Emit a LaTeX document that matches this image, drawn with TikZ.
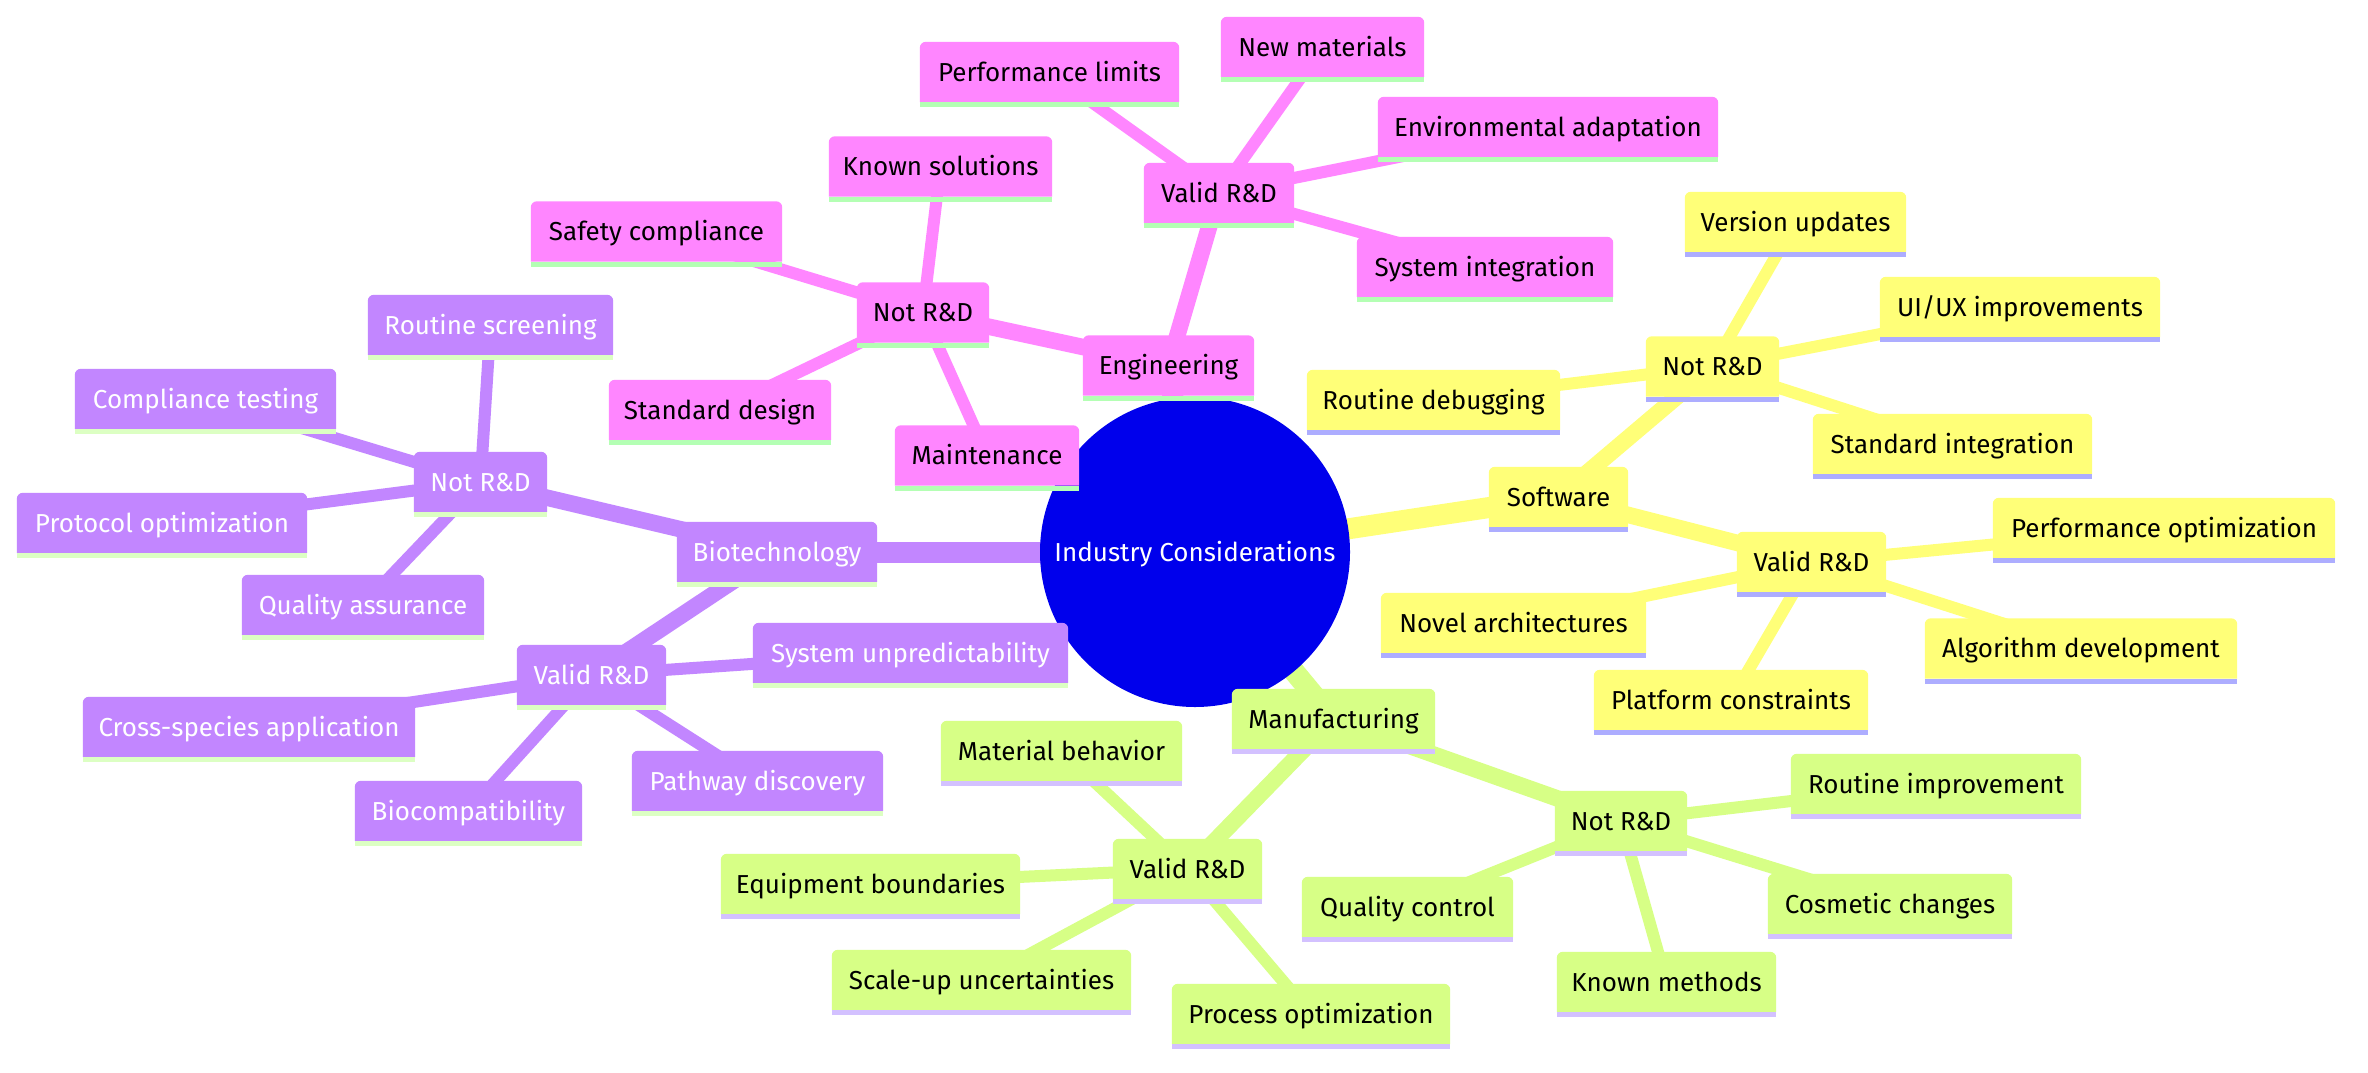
\documentclass[tikz,border=0pt]{standalone}
\usepackage{fontspec}
\setmainfont{Fira Sans}
\pgfdeclarelayer{bg}
\pgfdeclarelayer{edges}
\pgfdeclarelayer{boxes}
\pgfsetlayers{bg,edges,boxes,main}
\definecolor{rootc}{HTML}{0000EC}
\definecolor{yel}{HTML}{FFFF78}\definecolor{yelS}{HTML}{ADADFF}
\definecolor{pnk}{HTML}{FF86FF}\definecolor{pnkS}{HTML}{B4FFB4}
\definecolor{lim}{HTML}{D7FF86}\definecolor{limS}{HTML}{D3C1FF}
\definecolor{pur}{HTML}{C286FF}\definecolor{purS}{HTML}{DCFFC3}
\tikzset{
  mm/.style={inner sep=0pt, minimum height=60pt, text height=18pt, text depth=0pt,
    font=\fontsize{26}{30}\selectfont},
  dk/.style={mm, text=black},
  lt/.style={mm, text=white},
  e1/.style={line width=21pt, line cap=round},
  e2/.style={line width=16.5pt, line cap=round},
  e3/.style={line width=12pt, line cap=round},
}
\newcommand\mmbox[3]{%
  \fill[#2] (#1.south west) [rounded corners=6pt] -- (#1.north west) -- (#1.north east) [sharp corners] -- (#1.south east) -- cycle;
  \fill[#3] (#1.south west) rectangle ([yshift=-5pt]#1.south east);}
\begin{document}
\begin{tikzpicture}[x=1pt,y=-1pt]
\begin{pgfonlayer}{bg}
\fill[white] (0,0) rectangle (2368,1072);
\end{pgfonlayer}
\useasboundingbox (0,0) rectangle (2368,1072);
% root
\node[lt] (root) at (1195,552) {Industry Considerations};
% Engineering
\node[dk, minimum width=171pt] (eng) at (1168.5,365.5) {Engineering};
\node[dk, minimum width=132pt] (engN) at (923,312.5) {Not R\&D};
\node[dk, minimum width=150pt] (engV) at (1219,193) {Valid R\&D};
\node[dk, minimum width=223pt] (ks) at (940.5,166.5) {Known solutions};
\node[dk, minimum width=251pt] (sc) at (656.5,231.5) {Safety compliance};
\node[dk, minimum width=222pt] (sd) at (720,410) {Standard design};
\node[dk, minimum width=184pt] (mt) at (987,455.5) {Maintenance};
\node[dk, minimum width=259pt] (pl) at (1049.5,72) {Performance limits};
\node[dk, minimum width=203pt] (nm) at (1322.5,47) {New materials};
\node[dk, minimum width=340pt] (ea) at (1548,127) {Environmental adaptation};
\node[dk, minimum width=256pt] (si) at (1485,267) {System integration};
% Software
\node[dk, minimum width=139pt] (sw) at (1558.5,497) {Software};
\node[dk, minimum width=133pt] (swN) at (1712.5,366.5) {Not R\&D};
\node[dk, minimum width=149pt] (swV) at (1811.5,562) {Valid R\&D};
\node[dk, minimum width=221pt] (vu) at (1795.5,222) {Version updates};
\node[dk, minimum width=280pt] (ui) at (2020,307) {UI/UX improvements};
\node[dk, minimum width=253pt] (rd) at (1433.5,400) {Routine debugging};
\node[dk, minimum width=279pt] (sti) at (1952.5,444) {Standard integration};
\node[dk, minimum width=342pt] (po) at (2164,528) {Performance optimization};
\node[dk, minimum width=265pt] (na) at (1513.5,623) {Novel architectures};
\node[dk, minimum width=312pt] (ad) at (2081,648.5) {Algorithm development};
\node[dk, minimum width=274pt] (pc) at (1731,700) {Platform constraints};
% Manufacturing
\node[dk, minimum width=203pt] (mf) at (1333.5,719) {Manufacturing};
\node[dk, minimum width=132pt] (mfN) at (1621,821) {Not R\&D};
\node[dk, minimum width=149pt] (mfV) at (1187.5,869) {Valid R\&D};
\node[dk, minimum width=290pt] (ri) at (1936,784) {Routine improvement};
\node[dk, minimum width=211pt] (qc) at (1407.5,907) {Quality control};
\node[dk, minimum width=244pt] (cc) at (1890,904) {Cosmetic changes};
\node[dk, minimum width=219pt] (km) at (1666.5,982) {Known methods};
\node[dk, minimum width=278pt] (pro) at (1311,1014) {Process optimization};
\node[dk, minimum width=241pt] (mb) at (1061.5,751) {Material behavior};
\node[dk, minimum width=299pt] (eb) at (870.5,884) {Equipment boundaries};
\node[dk, minimum width=299pt] (su) at (981.5,980) {Scale-up uncertainties};
% Biotechnology
\node[lt, minimum width=200pt] (bt) at (777,552) {Biotechnology};
\node[lt, minimum width=133pt] (btN) at (480.5,482) {Not R\&D};
\node[lt, minimum width=149pt] (btV) at (591.5,675) {Valid R\&D};
\node[lt, minimum width=245pt] (rs) at (490.5,325) {Routine screening};
\node[lt, minimum width=261pt] (ct) at (205.5,399) {Compliance testing};
\node[lt, minimum width=290pt] (pop) at (162,523) {Protocol optimization};
\node[lt, minimum width=242pt] (qa) at (363,605) {Quality assurance};
\node[lt, minimum width=315pt] (sup) at (910.5,653) {System unpredictability};
\node[lt, minimum width=332pt] (cs) at (249,727) {Cross-species application};
\node[lt, minimum width=227pt] (bc) at (468.5,811) {Biocompatibility};
\node[lt, minimum width=251pt] (pd) at (757.5,781) {Pathway discovery};
% boxes
\begin{pgfonlayer}{boxes}
\fill[rootc] (root.center) circle (155pt);
\foreach \n in {eng,engN,engV,ks,sc,sd,mt,pl,nm,ea,si}{\mmbox{\n}{pnk}{pnkS}}
\foreach \n in {sw,swN,swV,vu,ui,rd,sti,po,na,ad,pc}{\mmbox{\n}{yel}{yelS}}
\foreach \n in {mf,mfN,mfV,ri,qc,cc,km,pro,mb,eb,su}{\mmbox{\n}{lim}{limS}}
\foreach \n in {bt,btN,btV,rs,ct,pop,qa,sup,cs,bc,pd}{\mmbox{\n}{pur}{purS}}
\end{pgfonlayer}
% edges
\begin{pgfonlayer}{edges}
\draw[e1,pnk] (root.center) -- (eng.center);
\draw[e1,yel] (root.center) -- (sw.center);
\draw[e1,lim] (root.center) -- (mf.center);
\draw[e1,pur] (root.center) -- (bt.center);
\foreach \a/\b in {eng/engN,eng/engV}{\draw[e2,pnk] (\a.center) -- (\b.center);}
\foreach \a/\b in {sw/swN,sw/swV}{\draw[e2,yel] (\a.center) -- (\b.center);}
\foreach \a/\b in {mf/mfN,mf/mfV}{\draw[e2,lim] (\a.center) -- (\b.center);}
\foreach \a/\b in {bt/btN,bt/btV}{\draw[e2,pur] (\a.center) -- (\b.center);}
\foreach \a/\b in {engN/ks,engN/sc,engN/sd,engN/mt,engV/pl,engV/nm,engV/ea,engV/si}{\draw[e3,pnk] (\a.center) -- (\b.center);}
\foreach \a/\b in {swN/vu,swN/ui,swN/rd,swN/sti,swV/po,swV/na,swV/ad,swV/pc}{\draw[e3,yel] (\a.center) -- (\b.center);}
\foreach \a/\b in {mfN/ri,mfN/qc,mfN/cc,mfN/km,mfV/pro,mfV/mb,mfV/eb,mfV/su}{\draw[e3,lim] (\a.center) -- (\b.center);}
\foreach \a/\b in {btN/rs,btN/ct,btN/pop,btN/qa,btV/sup,btV/cs,btV/bc,btV/pd}{\draw[e3,pur] (\a.center) -- (\b.center);}
\end{pgfonlayer}
\end{tikzpicture}
\end{document}
